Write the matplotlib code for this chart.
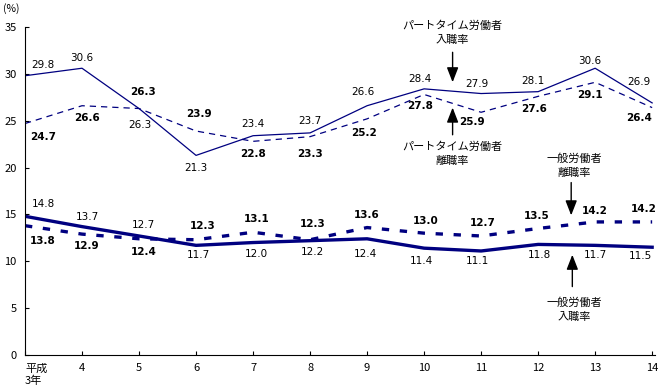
import numpy as np
import matplotlib
matplotlib.use("Agg")
import matplotlib.pyplot as plt

plt.rcParams['font.family'] = ['Noto Sans CJK JP', 'DejaVu Sans']

# データ (平成3年〜14年)
years = [3, 4, 5, 6, 7, 8, 9, 10, 11, 12, 13, 14]
xlabels = ['平成\n3年', '4', '5', '6', '7', '8', '9', '10', '11', '12', '13', '14']
pt_entry = [29.8, 30.6, 26.3, 21.3, 23.4, 23.7, 26.6, 28.4, 27.9, 28.1, 30.6, 26.9]
pt_sep = [24.7, 26.6, 26.3, 23.9, 22.8, 23.3, 25.2, 27.8, 25.9, 27.6, 29.1, 26.4]
gen_entry = [14.8, 13.7, 12.7, 11.7, 12.0, 12.2, 12.4, 11.4, 11.1, 11.8, 11.7, 11.5]
gen_sep = [13.8, 12.9, 12.4, 12.3, 13.1, 12.3, 13.6, 13.0, 12.7, 13.5, 14.2, 14.2]

# ラベル位置のずれ (px, 上が正)
off_pt_entry = [(18, 11), (0, 10), (1, -16), (0, -13), (0, 12), (0, 12),
                (-4, 14), (-4, 10), (-4, 10), (-5, 11), (-5, 7), (-13, 21)]
off_pt_sep = [(18, -13), (5, -12), (4, 17), (3, 17), (0, -13), (0, -17),
              (-3, -14), (-4, -12), (-9, -10), (-4, -13), (-5, -13), (-13, -10)]
off_gen_entry = [(18, 12), (5, 10), (4, 11), (2, -10), (3, -11), (2, -11),
                 (-2, -15), (-3, -13), (-4, -10), (1, -11), (0, -10), (-12, -9)]
off_gen_sep = [(18, -15), (5, -12), (5, -13), (7, 14), (4, 13), (3, 16),
               (0, 13), (2, 12), (2, 13), (-1, 12), (0, 11), (-8, 13)]

navy = '#000080'

fig = plt.figure(figsize=(6.59, 3.87), dpi=100)
ax = fig.add_axes([25 / 659, 32 / 387, 630 / 659, 328 / 387])

ax.plot(years, pt_entry, color=navy, lw=0.9)
ax.plot(years, pt_sep, color=navy, lw=0.9, dashes=(5, 4))
ax.plot(years, gen_entry, color=navy, lw=2.4)
ax.plot(years, gen_sep, color=navy, lw=2.4, dashes=(2.2, 3.2))


def put_labels(vals, offs, bold):
    for x, v, (dx, dy) in zip(years, vals, offs):
        ax.annotate(f'{v:.1f}', (x, v), xytext=(dx * 0.72, dy * 0.72),
                    textcoords='offset points', ha='center', va='center',
                    fontsize=7.5, fontweight='bold' if bold else 'normal',
                    family='DejaVu Sans', color='black')


put_labels(pt_entry, off_pt_entry, False)
put_labels(pt_sep, off_pt_sep, True)
put_labels(gen_entry, off_gen_entry, False)
put_labels(gen_sep, off_gen_sep, True)

# 注記と矢印
arrow = dict(arrowstyle='-|>,head_width=0.35,head_length=0.9', color='black',
             lw=1, mutation_scale=10, shrinkA=0, shrinkB=0)
ax.annotate('', xy=(10.5, 29.1), xytext=(10.5, 32.3), arrowprops=arrow)
ax.text(10.5, 34.4, 'パートタイム労働者\n入職率', ha='center', va='center',
        fontsize=8, linespacing=1.5)
ax.annotate('', xy=(10.5, 26.4), xytext=(10.5, 23.5), arrowprops=arrow)
ax.text(10.5, 21.5, 'パートタイム労働者\n離職率', ha='center', va='center',
        fontsize=8, linespacing=1.5)
ax.annotate('', xy=(12.58, 14.9), xytext=(12.58, 18.4), arrowprops=arrow)
ax.text(12.63, 20.2, '一般労働者\n離職率', ha='center', va='center',
        fontsize=8, linespacing=1.5)
ax.annotate('', xy=(12.6, 10.7), xytext=(12.6, 7.3), arrowprops=arrow)
ax.text(12.63, 4.8, '一般労働者\n入職率', ha='center', va='center',
        fontsize=8, linespacing=1.5)

# 軸
ax.set_xlim(3, 14.05)
ax.set_ylim(0, 35)
ax.set_yticks(np.arange(0, 36, 5))
ax.set_xticks(years)
ax.set_xticklabels(xlabels, fontsize=8)
for lab in ax.get_xticklabels()[:1]:
    lab.set_ha('left')
ax.tick_params(direction='in', length=3, width=0.8, labelsize=8, pad=6)
ax.spines['top'].set_visible(False)
ax.spines['right'].set_visible(False)
ax.text(-0.035, 1.055, '(%)', transform=ax.transAxes, fontsize=7.5,
        ha='left', va='center')

fig.savefig('out.png', dpi=100)
